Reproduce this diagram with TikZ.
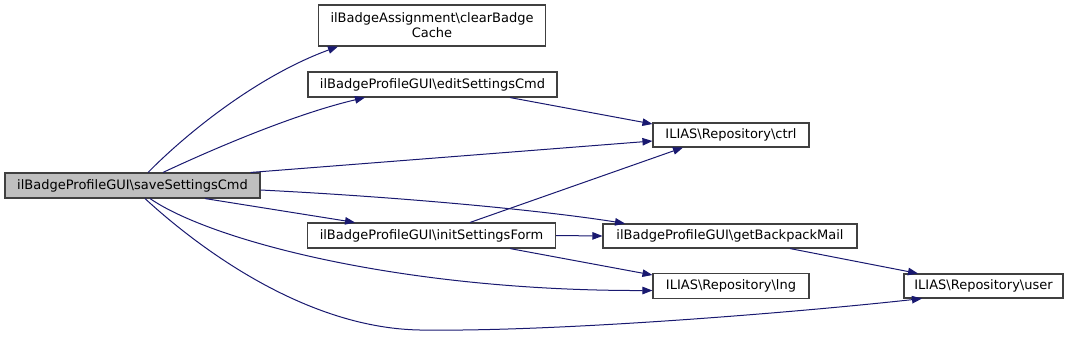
\documentclass[tikz,border=0pt]{standalone}
\usepackage{fontspec}
\setmainfont{DejaVu Sans}
\usetikzlibrary{arrows.meta}
\definecolor{edgeblue}{HTML}{191970}
\definecolor{boxborder}{HTML}{404040}
\definecolor{rootfill}{HTML}{BFBFBF}
\tikzset{
  box/.style={draw=boxborder, line width=1.1bp, fill=white, inner sep=0pt, align=center,
    font=\fontsize{13bp}{15bp}\selectfont},
  rootbox/.style={box, fill=rootfill},
  edge/.style={draw=edgeblue, line width=1bp, -{Triangle[length=10bp,width=7.5bp]}},
}
\begin{document}
\begin{tikzpicture}[x=1bp,y=-1bp]
\useasboundingbox (0,0) rectangle (1069,347);
\node[rootbox, minimum width=255bp, minimum height=25bp] (save) at (132.5,185.5) {ilBadgeProfileGUI\textbackslash saveSettingsCmd};
\node[box, minimum width=227bp, minimum height=41bp] (clear) at (432,25.5) {ilBadgeAssignment\textbackslash clearBadge\\Cache};
\node[box, minimum width=249bp, minimum height=25bp] (edit) at (432.5,84.5) {ilBadgeProfileGUI\textbackslash editSettingsCmd};
\node[box, minimum width=156bp, minimum height=24bp] (ctrl) at (731,135) {ILIAS\textbackslash Repository\textbackslash ctrl};
\node[box, minimum width=248bp, minimum height=25bp] (init) at (431.5,235.5) {ilBadgeProfileGUI\textbackslash initSettingsForm};
\node[box, minimum width=254bp, minimum height=24bp] (getbp) at (730,236) {ilBadgeProfileGUI\textbackslash getBackpackMail};
\node[box, minimum width=156bp, minimum height=25bp] (lng) at (731,286) {ILIAS\textbackslash Repository\textbackslash lng};
\node[box, minimum width=159bp, minimum height=24bp] (user) at (983.5,286) {ILIAS\textbackslash Repository\textbackslash user};

% edges from saveSettingsCmd
\draw[edge] ([xshift=15.5bp]save.north) .. controls (190,130) and (260,75) .. ([xshift=-94bp]clear.south);
\draw[edge] ([xshift=30.5bp]save.north) .. controls (200,155) and (290,115) .. ([xshift=-67.5bp]edit.south);
\draw[edge] ([xshift=-10bp]save.north east) -- ([yshift=-6bp]ctrl.west);
\draw[edge] ([yshift=-4.5bp]save.east) .. controls (400,197) and (540,210) .. ([xshift=-105bp]getbp.north);
\draw[edge] ([xshift=72.5bp]save.south) -- ([xshift=-76.5bp]init.north);
\draw[edge] ([xshift=17.5bp]save.south) .. controls (210,240) and (400,291) .. ([yshift=-4.5bp]lng.west);
\draw[edge] ([xshift=12.5bp]save.south) .. controls (190,240) and (300,328) .. (420,330)
  .. controls (560,332) and (800,312) .. ([xshift=-61.5bp]user.south);

% other edges
\draw[edge] ([xshift=77.5bp]edit.south) -- ([yshift=11bp]ctrl.west);
\draw[edge] ([xshift=38.5bp]init.north) -- ([xshift=-48bp]ctrl.south);
\draw[edge] (init.east) -- (getbp.west);
\draw[edge] ([xshift=78.5bp]init.south) -- ([yshift=11bp]lng.west);
\draw[edge] ([xshift=60bp]getbp.south) -- ([xshift=-65.5bp]user.north);
\end{tikzpicture}
\end{document}
